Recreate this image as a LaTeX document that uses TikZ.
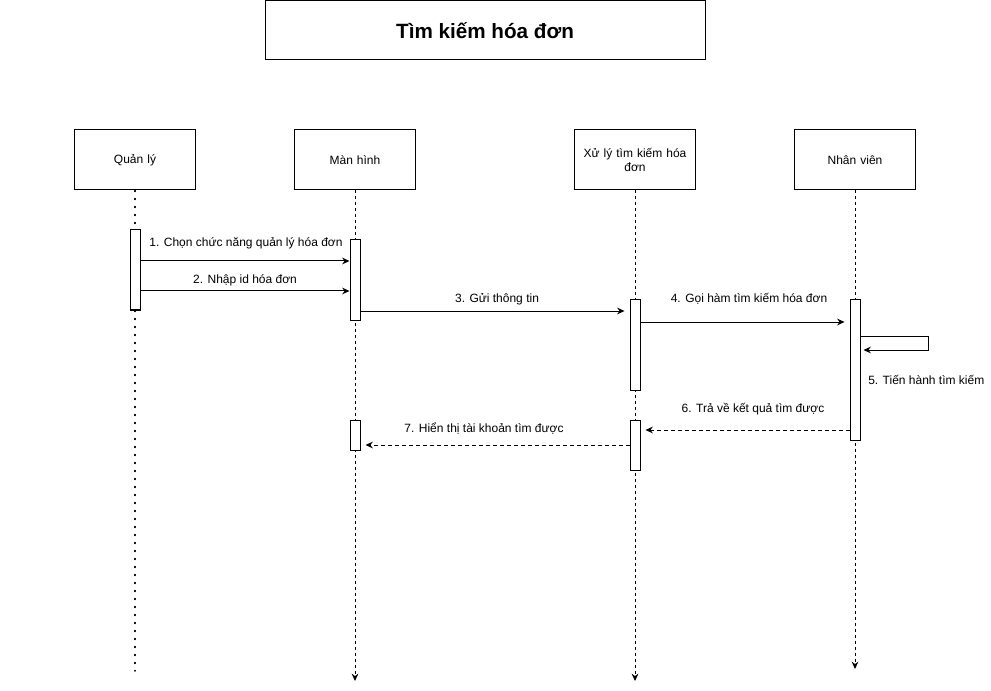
\documentclass[tikz,border=0pt]{standalone}
\usepackage{fontspec}
\setmainfont{Liberation Sans}
\usetikzlibrary{arrows.meta}
\tikzset{
  actor/.style={draw, line width=0.75pt, minimum width=90pt, minimum height=45pt,
    align=center, text width=84pt, font=\fontsize{9}{11}\selectfont},
  act/.style={draw, fill=white, line width=0.75pt, minimum width=7.5pt, inner sep=0pt},
  msg/.style={-{Stealth[length=5.5pt,width=5pt]}, line width=0.75pt},
  ret/.style={msg, dash pattern=on 3pt off 2.25pt},
  gap/.style={shorten >=3.75pt},
  lifeline/.style={dash pattern=on 2.25pt off 2.25pt, line width=0.75pt},
  lbl/.style={font=\fontsize{9}{11}\selectfont, inner sep=0pt},
}
\begin{document}
\begin{tikzpicture}[x=0.75pt, y=-0.75pt]
  \useasboundingbox (0,0) rectangle (991,691);

  % title
  \node[draw, line width=0.75pt, minimum width=330pt, minimum height=44.25pt,
    font=\fontsize{15.5}{18}\selectfont\bfseries] (title) at (485,30.5) {Tìm kiếm hóa đơn};

  % actors
  \node[actor] (ql) at (135,160) {\vphantom{M}Quản lý};
  \node[actor] (mh) at (355,160) {Màn hình};
  \node[actor] (xl) at (635,160) {Xử lý tìm kiếm hóa\\đơn};
  \node[actor] (nv) at (855,160) {Nhân viên};

  \coordinate (qlend) at (135,671);
  \coordinate (mhend) at (355,681);
  \coordinate (xlend) at (635,681);
  \coordinate (nvend) at (855,669);

  % lifelines
  \draw[line width=1pt, dash pattern=on 0.8pt off 5.2pt, line cap=round] (ql.south) -- (qlend);
  \draw[lifeline, -{Stealth[length=5.5pt,width=5pt]}] (mh.south) -- (mhend);
  \draw[lifeline, -{Stealth[length=5.5pt,width=5pt]}] (xl.south) -- (xlend);
  \draw[lifeline, -{Stealth[length=5.5pt,width=5pt]}] (nv.south) -- (nvend);

  % activations
  \node[act, minimum height=60pt] (ql1) at (135,270) {};
  \node[act, minimum height=60pt] (mh1) at (355,280) {};
  \node[act, minimum height=22.5pt] (mh2) at (355,435) {};
  \node[act, minimum height=67.5pt] (xl1) at (635,345) {};
  \node[act, minimum height=37.5pt] (xl2) at (635,445) {};
  \node[act, minimum height=105pt] (nv1) at (855,370) {};

  % messages
  \draw[msg] (ql1.east |- 0,261) -- (mh1.west |- 0,261);
  \node[lbl] (m1) at (246,243) {1. Chọn chức năng quản lý hóa đơn};
  \draw[msg] (ql1.east |- 0,291) -- (mh1.west |- 0,291);
  \node[lbl] (m2) at (245,280) {2. Nhập id hóa đơn};
  \draw[msg, gap] (mh1.east |- 0,311) -- (xl1.west |- 0,311);
  \node[lbl] (m3) at (497,299) {3. Gửi thông tin};
  \draw[msg, gap] (xl1.east |- 0,322) -- (nv1.west |- 0,322);
  \node[lbl] (m4) at (749,299) {4. Gọi hàm tìm kiếm hóa đơn};
  \draw[msg, shorten >=2.25pt] (nv1.east |- 0,336) -- ++(68,0) -- ++(0,14) -- (nv1.east |- 0,350);
  \node[lbl, anchor=west] (m5) at (868,380) {5. Tiến hành tìm kiếm};
  \draw[ret, gap] (nv1.west |- 0,430) -- (xl2.east |- 0,430);
  \node[lbl] (m6) at (753,409) {6. Trả về kết quả tìm được};
  \draw[ret, gap] (xl2.west |- 0,445) -- (mh2.east |- 0,445);
  \node[lbl] (m7) at (484,429) {7. Hiển thị tài khoản tìm được};
\end{tikzpicture}
\end{document}
